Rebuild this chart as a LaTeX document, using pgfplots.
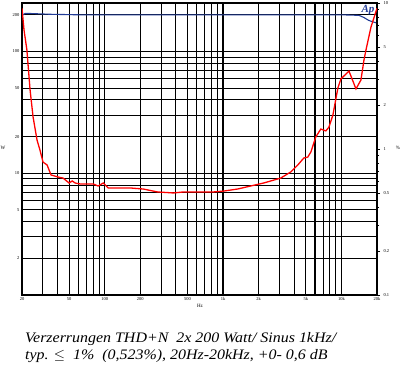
\documentclass[border=0pt]{standalone}
\usepackage{pgfplots}
\pgfplotsset{compat=1.18}
\usepackage{fontspec}
\setmainfont{Liberation Serif}
\newfontfamily\capfont[FakeStretch=1.1]{Liberation Serif}
\definecolor{apblue}{RGB}{35,60,150}
\begin{document}
\begin{tikzpicture}
\useasboundingbox (-22pt,-72pt) rectangle (381pt,295pt);
\begin{axis}[
  scale only axis, width=355pt, height=292pt, at={(0pt,0pt)}, anchor=south west,
  xmode=log, ymode=log, xmin=20, xmax=20000, ymin=1, ymax=250,
  xtick={20,30,40,50,60,70,80,90,100,200,300,400,500,600,700,800,900,1000,2000,3000,4000,5000,6000,7000,8000,9000,10000,20000},
  xticklabels={20,,,50,,,,,100,200,,,500,,,,,1k,2k,,,5k,,,,,10k,20k},
  ytick={2,3,4,5,6,7,8,9,10,20,30,40,50,60,70,80,90,100,200},
  yticklabels={2,,,5,,,,,10,20,,,50,,,,,100,200},
  extra x ticks={1000,6000}, extra x tick labels={},
  extra x tick style={xmajorgrids=true, major grid style={black, line width=2.2pt}},
  grid=major, major grid style={black, line width=1pt},
  axis line style={black, line width=1.1pt},
  major tick length=0pt, minor tick length=0pt,
  xminorticks=false, yminorticks=false,
  tick label style={font=\fontsize{4.5}{5}\selectfont},
  xticklabel style={yshift=1pt},
  yticklabel style={xshift=1pt},
]
\addplot[apblue, line width=1.1pt] coordinates {
(20,198) (21.2,205) (23.4,205) (34.6,202) (60,200) (200,200) (1000,200)
(5000,200) (10000,200) (14100,198) (15500,190) (17000,180) (18500,175) (20000,171)
};
\end{axis}
\begin{axis}[
  scale only axis, width=355pt, height=292pt, at={(0pt,0pt)}, anchor=south west,
  xmode=log, ymode=log, xmin=20, xmax=20000, ymin=0.1, ymax=10,
  axis x line=none, axis y line*=right,
  axis line style={black, line width=1.1pt},
  ytick={0.1,0.2,0.5,1,2,5,10},
  yticklabels={0.1,0.2,0.5,1,2,5,10},
  minor ytick={0.3,0.4,0.6,0.7,0.8,0.9,3,4,6,7,8,9},
  tick align=outside, major tick length=3pt, minor tick length=2pt,
  tick style={black, line width=0.5pt},
  tick label style={font=\fontsize{4.5}{5}\selectfont},
]
\addplot[red, line width=1.3pt] coordinates {
(20,9.2) (20.8,6.53) (22.0,4.76) (23.4,2.54) (24.8,1.66) (26.8,1.15) (28.4,0.98)
(30.1,0.814) (32.6,0.777) (35.2,0.664) (40.4,0.643) (44.5,0.632) (50.0,0.585)
(53.1,0.604) (56.3,0.585) (62.0,0.576) (72.5,0.576) (80.0,0.576) (88.1,0.558)
(97.1,0.585) (107,0.541) (135,0.541) (164,0.541) (212,0.532) (279,0.508)
(381,0.5) (463,0.508) (608,0.508) (832,0.508) (1010,0.515) (1328,0.532)
(1711,0.558) (2204,0.585) (3069,0.632) (3730,0.696) (4280,0.777) (4810,0.867)
(5200,0.881) (5520,0.953) (6080,1.21) (6700,1.37) (7390,1.33) (7840,1.41)
(8480,1.71) (9340,2.62) (9910,3.02) (11590,3.42) (13280,2.58) (14630,2.97)
(15520,4.07) (16130,4.76) (17790,6.85) (20000,9.2)
};
\end{axis}
\node[font=\fontsize{5}{5}\selectfont] at (-19pt,147pt) {W};
\node[font=\fontsize{5}{5}\selectfont] at (376pt,147pt) {\%};
\node[font=\fontsize{5}{5}\selectfont] at (178pt,-11pt) {Hz};
\node[font=\bfseries\itshape\fontsize{11}{11}\selectfont, text=apblue] at (346pt,285pt) {Ap};
\node[anchor=base west, font=\capfont\itshape\fontsize{14.5}{14.5}\selectfont, inner sep=0pt] at (3pt,-47pt) {Verzerrungen THD+N\ \ 2x 200 Watt/ Sinus 1kHz/};
\node[anchor=base west, font=\capfont\itshape\fontsize{14.5}{14.5}\selectfont, inner sep=0pt] at (3pt,-64pt) {typ. $\leq$\ \ 1\%\ \ (0,523\%), 20Hz-20kHz, +0- 0,6 dB};
\end{tikzpicture}
\end{document}
